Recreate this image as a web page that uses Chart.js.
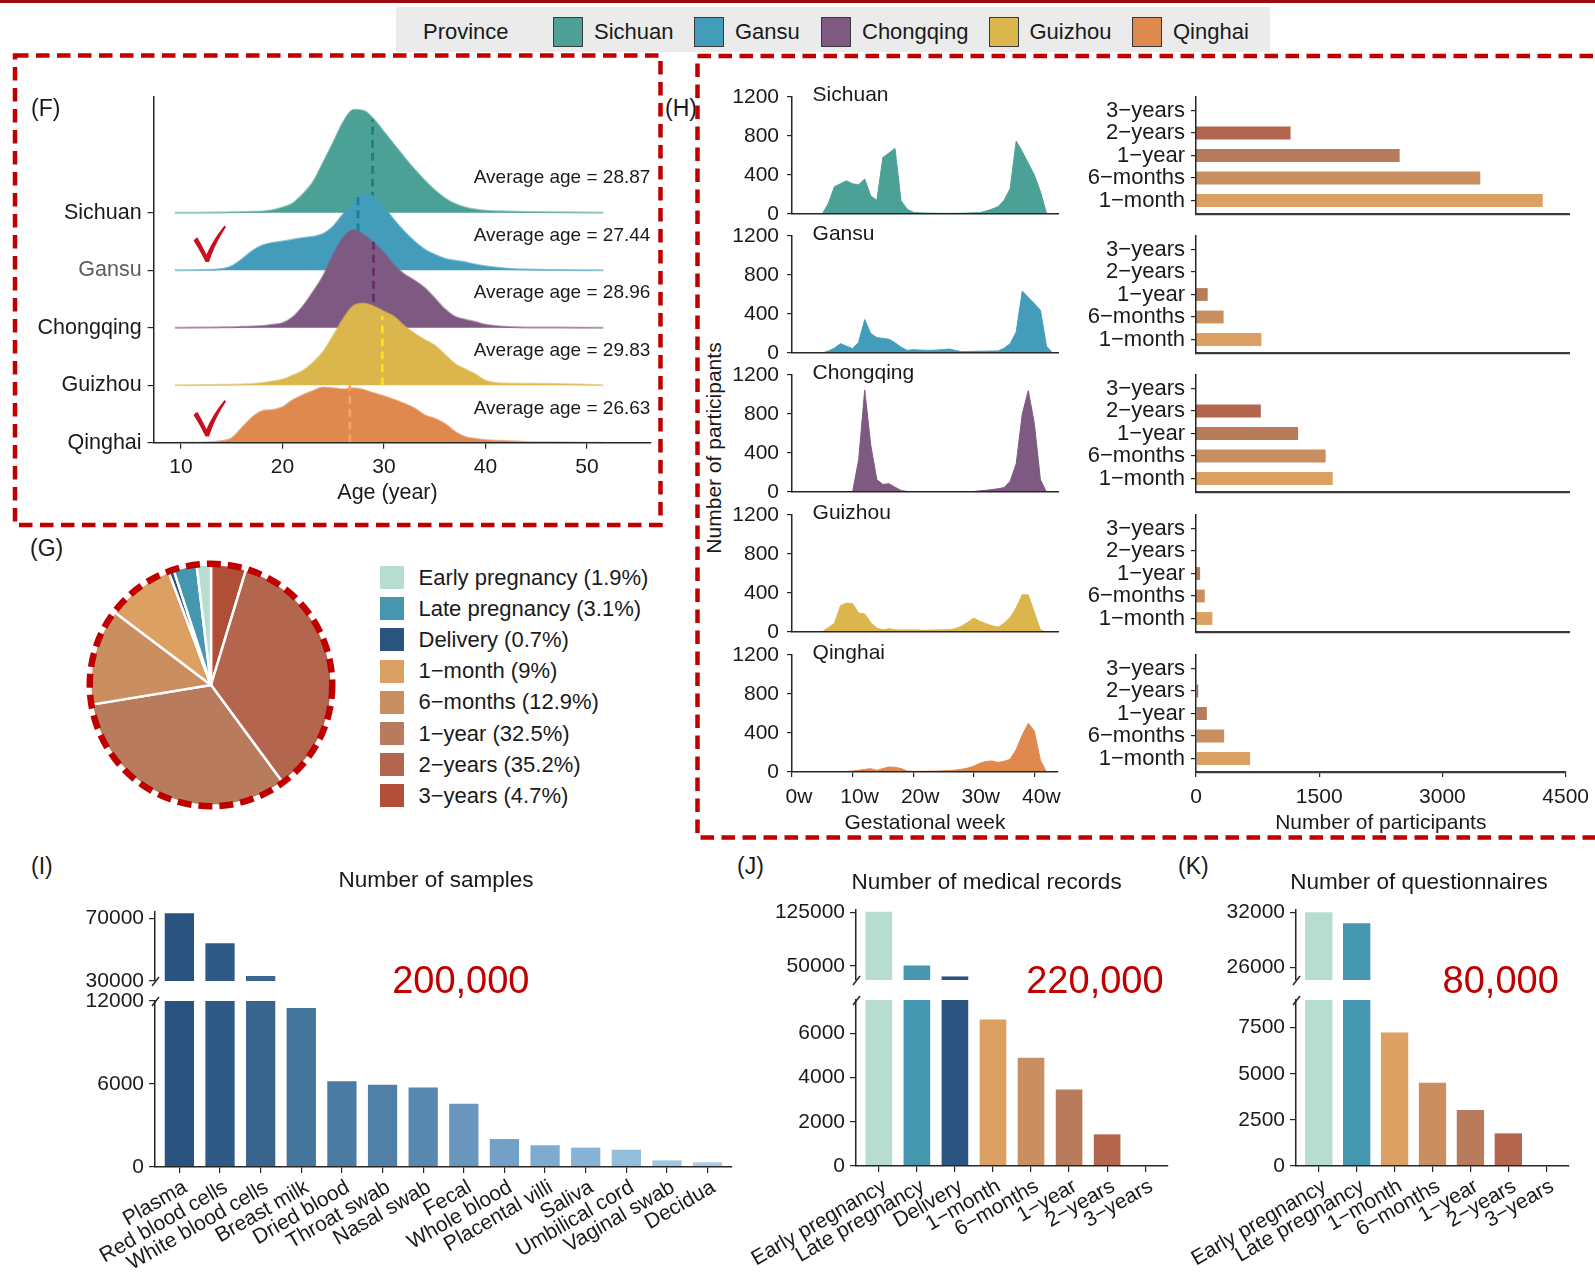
<!DOCTYPE html>
<html>
<head>
<meta charset="utf-8">
<title>Cohort overview</title>
<script src="https://cdn.jsdelivr.net/npm/chart.js@4.4.1/dist/chart.umd.min.js"></script>
<style>
  html, body { margin: 0; padding: 0; background: #fff; }
  body { position: relative; width: 1595px; height: 1272px; overflow: hidden;
         font-family: 'Liberation Sans', Arial, Helvetica, sans-serif; color: #1a1a1a; }
  canvas { position: absolute; }
  .t { position: absolute; white-space: nowrap; line-height: 1; }
  .sw { position: absolute; box-sizing: border-box; }
</style>
</head>
<body>
<div style="position:absolute;left:0;top:0;width:1595px;height:3px;background:#9e0b0f"></div>
<div style="position:absolute;left:396px;top:7px;width:874px;height:45px;background:#ebebeb"></div>
<script>
// ---------- data ----------
const provinces = ['Sichuan', 'Gansu', 'Chongqing', 'Guizhou', 'Qinghai'];
const provinceColors = ['#4ca196', '#439dba', '#7e5a82', '#dab64c', '#e0894f'];
const meanLineColors = ['#1d8181', '#1a7ea2', '#6b2c6e', '#f8e21a', '#f4a25f'];

// (F) age density ridges, heights in row units
const ageGrid = [9.4, 12, 14, 15, 16, 17, 18, 19, 20, 21, 22, 23, 24, 25, 26, 27, 28, 29, 30, 31, 32, 33, 34, 35, 36, 37, 38, 39, 40, 42, 44, 47, 51.6];
const ageSichuan = [0, 0, 0.003, 0.005, 0.01, 0.015, 0.02, 0.04, 0.09, 0.16, 0.32, 0.53, 0.87, 1.22, 1.58, 1.79, 1.77, 1.62, 1.40, 1.18, 0.96, 0.75, 0.56, 0.39, 0.25, 0.15, 0.09, 0.055, 0.035, 0.02, 0.01, 0.005, 0];
const ageGansu = [0, 0.003, 0.02, 0.07, 0.19, 0.33, 0.43, 0.475, 0.5, 0.53, 0.56, 0.58, 0.63, 0.76, 0.98, 1.18, 1.31, 1.28, 1.09, 0.87, 0.67, 0.5, 0.36, 0.27, 0.2, 0.165, 0.14, 0.1, 0.07, 0.03, 0.01, 0.003, 0];
const ageChongqing = [0, 0.003, 0.008, 0.01, 0.015, 0.02, 0.03, 0.05, 0.08, 0.18, 0.37, 0.62, 0.9, 1.27, 1.57, 1.7, 1.61, 1.47, 1.3, 1.08, 0.93, 0.82, 0.69, 0.51, 0.32, 0.19, 0.14, 0.1, 0.05, 0.015, 0.005, 0.002, 0];
const ageGuizhou = [0, 0.003, 0.008, 0.01, 0.015, 0.02, 0.04, 0.065, 0.1, 0.17, 0.25, 0.39, 0.58, 0.86, 1.16, 1.38, 1.42, 1.37, 1.28, 1.19, 1.03, 0.9, 0.79, 0.69, 0.53, 0.37, 0.28, 0.19, 0.08, 0.03, 0.025, 0.02, 0];
const ageQinghai = [0, 0.003, 0.03, 0.08, 0.26, 0.44, 0.55, 0.57, 0.62, 0.74, 0.83, 0.9, 0.96, 0.95, 0.93, 0.95, 0.92, 0.86, 0.81, 0.75, 0.68, 0.6, 0.48, 0.42, 0.33, 0.19, 0.1, 0.07, 0.05, 0.03, 0.015, 0.008, 0];
const meanAges = [28.87, 27.44, 28.96, 29.83, 26.63];
const meanLineTop = [1.62, 1.32, 1.58, 1.2, 1.0];
const ageTicks = [10, 20, 30, 40, 50];

// (H) participants by gestational week
const weeks = [0,1,2,3,4,5,6,7,8,9,10,11,12,13,14,15,16,17,18,19,20,21,22,23,24,25,26,27,28,29,30,31,32,33,34,35,36,37,38,39,40,41,42,43];
const weekSichuan = [0,0,0,0,0,0,110,280,310,340,310,300,360,185,140,580,625,673,136,50,18,12,10,9,8,7,7,7,8,10,12,14,30,50,75,140,260,748,640,520,400,230,7,0];
const weekGansu = [0,0,0,0,0,0,20,50,96,70,45,110,343,199,158,150,141,105,60,27,34,30,28,27,30,35,41,25,14,15,17,18,19,20,21,48,96,216,635,570,505,439,70,0];
const weekChongqing = [0,0,0,0,0,0,0,0,0,0,0,331,1047,480,126,78,85,50,15,6,5,5,5,5,5,5,5,5,5,5,5,12,17,25,33,45,109,290,800,1040,700,126,0,0];
const weekGuizhou = [0,0,0,0,0,0,45,90,270,297,290,195,185,95,40,22,34,22,20,21,21,20,18,20,21,22,24,35,60,100,144,110,85,65,50,90,150,250,383,380,200,21,0,0];
const weekQinghai = [0,0,0,0,0,0,2,3,4,6,10,18,27,34,17,35,51,48,36,10,7,7,8,9,10,12,15,20,28,40,60,90,108,113,98,110,130,230,380,500,420,120,0,0];
const weekTicks = [0, 10, 20, 30, 40];

// (H) follow-up participants
const followLabels = ['3\u2212years', '2\u2212years', '1\u2212year', '6\u2212months', '1\u2212month'];
const followColors = ['#b04e38', '#b4654d', '#b87c5d', '#c98f60', '#dca062'];
const followSichuan = [0, 1141, 2457, 3430, 4183];
const followGansu = [0, 0, 141, 333, 789];
const followChongqing = [0, 782, 1232, 1564, 1649];
const followGuizhou = [0, 0, 50, 106, 198];
const followQinghai = [0, 27, 132, 343, 659];

// (G) time points
const stageLabels = ['Early pregnancy', 'Late pregnancy', 'Delivery', '1\u2212month', '6\u2212months', '1\u2212year', '2\u2212years', '3\u2212years'];
const stagePct = [1.9, 3.1, 0.7, 9, 12.9, 32.5, 35.2, 4.7];
const stageColors = ['#b7ddd0', '#4497af', '#2b5580', '#dca062', '#c98f60', '#b87c5d', '#b4654d', '#b04e38'];

// (I) samples
const sampleLabels = ['Plasma', 'Red blood cells', 'White blood cells', 'Breast milk', 'Dried blood', 'Throat swab', 'Nasal swab', 'Fecal', 'Whole blood', 'Placental villi', 'Saliva', 'Umbilical cord', 'Vaginal swab', 'Decidua'];
const sampleCounts = [73200, 54000, 33200, 11500, 6200, 5950, 5750, 4580, 2020, 1570, 1400, 1250, 480, 340];
const sampleColors = ['#2b5380', '#2f5a85', '#38668e', '#44769b', '#4b7aa3', '#5080a8', '#5888b0', '#6896bd', '#72a0c6', '#7eabd0', '#87b3d6', '#93bedc', '#9ec6e2', '#a9cde6'];

// (J) medical records
const recordLabels = stageLabels;
const recordCounts = [125500, 50300, 35000, 6620, 4890, 3460, 1430, 0];
const recordColors = stageColors;

// (K) questionnaires
const questLabels = ['Early pregnancy', 'Late pregnancy', '1\u2212month', '6\u2212months', '1\u2212year', '2\u2212years', '3\u2212years'];
const questCounts = [32000, 30800, 7240, 4520, 3030, 1770, 0];
const questColors = ['#b7ddd0', '#4497af', '#dca062', '#c98f60', '#b87c5d', '#b4654d', '#b04e38'];

// ---------- helpers ----------
const FONT = "'Liberation Sans', Arial, Helvetica, sans-serif";
const AX = '#262626';
const RED = '#c00000';
Chart.defaults.font.family = FONT;
Chart.defaults.color = '#1a1a1a';
Chart.defaults.animation = false;
Chart.defaults.plugins.legend.display = false;
Chart.defaults.plugins.tooltip.enabled = false;

const plain = v => String(v);

function fade(hex, a) {
  const n = parseInt(hex.slice(1), 16);
  return `rgba(${n >> 16},${(n >> 8) & 255},${n & 255},${a})`;
}

// place a canvas so that the chart area lands on rect a
function mk(a, o, cfg) {
  const c = document.createElement('canvas');
  const left = a.l - (o.yW || 0) - (o.pl || 0);
  const top = a.t - (o.pt || 0);
  const w = Math.round(a.r - left + (o.pr || 0));
  const h = Math.round(a.b - top + (o.xH || 0) + (o.pb || 0));
  c.width = w; c.height = h;
  c.style.left = left + 'px'; c.style.top = top + 'px';
  document.body.appendChild(c);
  cfg.options = cfg.options || {};
  cfg.options.responsive = false;
  cfg.options.devicePixelRatio = 1;
  cfg.options.layout = { padding: { left: o.pl || 0, top: o.pt || 0, right: o.pr || 0, bottom: o.pb || 0 } };
  const sc = cfg.options.scales || {};
  for (const k in sc) {
    if (k === 'x') sc[k].afterFit = s => { s.height = o.xH || 0; };
    else sc[k].afterFit = s => { s.width = o.yW || 0; };
  }
  return new Chart(c, cfg);
}

function notes(items) {
  return {
    id: 'notes',
    afterDatasetsDraw(chart) {
      const { ctx } = chart, xs = chart.scales.x, ys = chart.scales.y;
      ctx.save();
      items.forEach(it => {
        ctx.font = `${it.size || 20}px ${FONT}`;
        ctx.fillStyle = it.color || '#1a1a1a';
        ctx.textAlign = it.align || 'left';
        ctx.textBaseline = 'middle';
        ctx.fillText(it.text, xs.getPixelForValue(it.x), ys.getPixelForValue(it.y));
      });
      ctx.restore();
    }
  };
}

function axisBreak(edge) {
  return {
    id: 'axisBreak',
    afterDraw(chart) {
      const { ctx, chartArea: a } = chart;
      const y = edge === 'bottom' ? a.bottom : a.top;
      ctx.save();
      ctx.strokeStyle = AX; ctx.lineWidth = 1.5;
      ctx.beginPath();
      ctx.moveTo(a.left - 3, y + 5);
      ctx.lineTo(a.left + 4, y - 4);
      ctx.stroke();
      ctx.restore();
    }
  };
}

const tickGrid = (len) => ({ display: true, drawOnChartArea: false, drawTicks: true, tickLength: len, color: AX, lineWidth: 1.2, offset: false });
const axBorder = { display: true, color: AX, width: 1.5, z: 1 };
const idxTicks = n => s => { s.ticks = Array.from({ length: n }, (_, i) => ({ value: i })); };

function txt(s, x, yc, size, opt = {}) {
  const d = document.createElement('div');
  d.className = 't';
  d.textContent = s;
  d.style.fontSize = size + 'px';
  d.style.top = (yc - 0.49 * size) + 'px';
  if (opt.align === 'center') { d.style.left = x + 'px'; d.style.transform = 'translateX(-50%)'; }
  else if (opt.align === 'right') d.style.right = (1595 - x) + 'px';
  else d.style.left = x + 'px';
  if (opt.color) d.style.color = opt.color;
  document.body.appendChild(d);
  return d;
}
function swatch(x, y, w, h, color, border) {
  const d = document.createElement('div');
  d.className = 'sw';
  d.style.cssText += `left:${x}px;top:${y}px;width:${w}px;height:${h}px;background:${color};` + (border ? `border:${border};` : '');
  document.body.appendChild(d);
}

// ---------- top legend ----------
txt('Province', 423, 32, 22);
const legX = [553, 694, 821, 988.5, 1132];
provinces.forEach((p, i) => {
  swatch(legX[i], 17, 30, 30, provinceColors[i], '1.5px solid #3a3a3a');
  txt(p, legX[i] + 41, 32, 22);
});

// ---------- (F) ridgeline ----------
const ageDens = [ageSichuan, ageGansu, ageChongqing, ageGuizhou, ageQinghai];
const fSets = [];
for (let i = provinces.length - 1; i >= 0; i--) {
  const base = provinces.length - 1 - i;
  fSets.push({
    data: [{ x: meanAges[i], y: base }, { x: meanAges[i], y: base + meanLineTop[i] }],
    borderColor: meanLineColors[i], borderWidth: 2.8, borderDash: [8, 5],
    pointRadius: 0, fill: false
  });
  fSets.push({
    data: ageGrid.map((a, j) => ({ x: a, y: base + ageDens[i][j] })),
    backgroundColor: provinceColors[i], borderColor: fade(provinceColors[i], 0.6), borderWidth: 2,
    pointRadius: 0, fill: { value: base }, cubicInterpolationMode: 'monotone'
  });
}
const fNotes = provinces.map((p, i) => ({
  text: 'Average age = ' + meanAges[i].toFixed(2), x: 56.24, y: provinces.length - 1 - i + 0.6, size: 19, align: 'right'
}));
// axis title sits centred under age 30.3, below the tick labels
fNotes.push({ text: 'Age (year)', x: 30.34, y: -0.88, size: 21.5, align: 'center' });
mk({ l: 153.6, t: 96.6, r: 650.6, b: 442.7 }, { yW: 133.6, pt: 26, pr: 8, xH: 63.2 }, {
  type: 'line',
  data: { datasets: fSets },
  options: {
    scales: {
      x: {
        type: 'linear', min: 7.3, max: 56.3,
        afterBuildTicks: s => { s.ticks = ageTicks.map(v => ({ value: v })); },
        ticks: { font: { size: 21 }, padding: 6 },
        grid: tickGrid(6), border: axBorder
      },
      y: {
        type: 'linear', min: 0, max: 6.01,
        afterBuildTicks: s => { s.ticks = [0, 1, 2, 3, 4].map(v => ({ value: v })); },
        ticks: {
          font: { size: 21.5 }, padding: 6, autoSkip: false,
          callback: v => provinces[provinces.length - 1 - v],
          color: c => (c.tick && c.tick.value === 3) ? '#5c5c5c' : '#1a1a1a'
        },
        grid: tickGrid(6), border: axBorder
      }
    }
  },
  plugins: [notes(fNotes)]
});
txt('(F)', 31, 108, 23);

// ---------- (G) pie ----------
mk({ l: 89, t: 562.5, r: 333, b: 806.5 }, { pl: 10, pt: 10, pr: 10, pb: 10 }, {
  type: 'pie',
  data: {
    labels: stageLabels.slice().reverse(),
    datasets: [{
      data: stagePct.slice().reverse(),
      backgroundColor: stageColors.slice().reverse(),
      borderColor: '#ffffff', borderWidth: 2.5
    }]
  },
  options: {},
  plugins: [{
    id: 'ring',
    afterDatasetsDraw(chart) {
      const arc = chart.getDatasetMeta(0).data[0];
      const { x, y, outerRadius } = arc.getProps(['x', 'y', 'outerRadius'], true);
      const ctx = chart.ctx;
      ctx.save();
      ctx.strokeStyle = RED; ctx.lineWidth = 6.5; ctx.setLineDash([14, 7]);
      ctx.beginPath(); ctx.arc(x, y, outerRadius + 0.5, 0, Math.PI * 2); ctx.stroke();
      ctx.restore();
    }
  }]
});
txt('(G)', 30, 548, 23);
stageLabels.forEach((s, i) => {
  const yc = 577.3 + i * 31.24;
  swatch(379.5, yc - 11.5, 24, 23, stageColors[i]);
  txt(`${s} (${stagePct[i]}%)`, 418.5, yc, 22);
});

// ---------- (H) gestational week + follow-up ----------
const weekRows = [weekSichuan, weekGansu, weekChongqing, weekGuizhou, weekQinghai];
const followRows = [followSichuan, followGansu, followChongqing, followGuizhou, followQinghai];
const rowBottoms = [213.6, 352.9, 492.3, 631.8, 771.8];
rowBottoms.forEach((b, i) => {
  const last = i === rowBottoms.length - 1;
  const t = b - 117;
  mk({ l: 791.7, t, r: 1057.3, b }, { yW: 62, pt: 26, pr: 10, xH: last ? 64 : 0, pb: last ? 0 : 26 }, {
    type: 'line',
    data: {
      datasets: [{
        data: weeks.map((w, j) => ({ x: w, y: weekRows[i][j] })),
        backgroundColor: provinceColors[i], borderColor: provinceColors[i], borderWidth: 1,
        pointRadius: 0, fill: 'origin', tension: 0
      }]
    },
    options: {
      scales: {
        x: {
          type: 'linear', min: 0, max: 43.9,
          afterBuildTicks: s => { s.ticks = weekTicks.map(v => ({ value: v })); },
          ticks: { display: last, font: { size: 21 }, padding: 8, labelOffset: 7, autoSkip: false, callback: v => v + 'w' },
          grid: last ? tickGrid(5) : { display: false }, border: axBorder,
          title: { display: last, text: 'Gestational week', font: { size: 21 }, padding: 0 }
        },
        y: {
          type: 'linear', min: 0, max: 1200,
          ticks: { stepSize: 400, font: { size: 21 }, padding: 8, autoSkip: false, callback: plain },
          grid: tickGrid(5), border: axBorder
        }
      }
    },
    plugins: [notes([{ text: provinces[i], x: 3.4, y: 1215, size: 21 }])]
  });
  mk({ l: 1196.4, t, r: 1569.3, b }, { yW: 115, pt: 26, pr: 28, xH: last ? 64 : 0, pb: last ? 0 : 26 }, {
    type: 'bar',
    data: {
      datasets: [{
        data: followRows[i].map((v, k) => ({ x: v, y: k })),
        backgroundColor: followColors, barPercentage: 0.57, categoryPercentage: 1
      }]
    },
    options: {
      indexAxis: 'y',
      scales: {
        x: {
          type: 'linear', min: 0, max: 4500,
          ticks: { display: last, stepSize: 1500, font: { size: 21 }, padding: 8, autoSkip: false, callback: plain },
          grid: last ? tickGrid(5) : { display: false },
          border: { display: true, color: '#3a3a3a', width: 2.2, z: 1 },
          title: { display: last, text: 'Number of participants', font: { size: 21 }, padding: 0 }
        },
        y: {
          type: 'linear', offset: false, reverse: true, min: -0.6, max: followLabels.length - 0.4,
          afterBuildTicks: idxTicks(followLabels.length),
          ticks: { font: { size: 22 }, padding: 6, autoSkip: false, callback: v => followLabels[v] },
          grid: tickGrid(5), border: axBorder
        }
      }
    }
  });
});
txt('(H)', 665, 108, 23);
const yTitle = txt('Number of participants', 713, 447.6, 21);
yTitle.style.top = '447.6px';
yTitle.style.transform = 'translate(-50%, -50%) rotate(-90deg)';

// ---------- (I)(J)(K) broken-axis bar charts ----------
function brokenBars(p) {
  const n = p.labels.length;
  const pts = p.values.map((v, i) => ({ x: i, y: v }));
  const xBase = { type: 'linear', offset: false, min: -0.6, max: n - 0.4, afterBuildTicks: idxTicks(n) };
  mk({ l: p.l, t: p.topT, r: p.r, b: p.topB }, { yW: p.yW, pt: 26, pr: 10, xH: 0, pb: 26 }, {
    type: 'bar',
    data: { datasets: [{ data: pts, backgroundColor: p.colors, barPercentage: p.bp, categoryPercentage: 1, clip: 0 }] },
    options: {
      scales: {
        x: Object.assign({ display: false, grid: { offset: false } }, xBase),
        y: {
          min: p.topMin, max: p.topMax,
          afterBuildTicks: s => { s.ticks = p.topTicks.map(v => ({ value: v })); },
          ticks: { font: { size: 21 }, padding: 5, autoSkip: false, callback: plain },
          grid: tickGrid(6), border: axBorder
        }
      }
    },
    plugins: [axisBreak('bottom')]
  });
  mk({ l: p.l, t: p.botT, r: p.r, b: p.botB }, { yW: p.yW, pt: 26, pr: 10, xH: 105, pb: 0 }, {
    type: 'bar',
    data: { datasets: [{ data: pts, backgroundColor: p.colors, barPercentage: p.bp, categoryPercentage: 1, clip: 0 }] },
    options: {
      scales: {
        x: Object.assign({
          ticks: { font: { size: 21 }, minRotation: 30, maxRotation: 30, autoSkip: false, padding: 2, labelOffset: 6, callback: v => p.labels[v] },
          grid: tickGrid(6), border: axBorder
        }, xBase),
        y: {
          min: 0, max: p.botMax,
          afterBuildTicks: s => { s.ticks = p.botTicks.map(v => ({ value: v })); },
          ticks: { font: { size: 21 }, padding: 5, autoSkip: false, callback: plain },
          grid: tickGrid(6), border: axBorder
        }
      }
    },
    plugins: [axisBreak('top')]
  });
}

brokenBars({
  labels: sampleLabels, values: sampleCounts, colors: sampleColors, bp: 0.72,
  l: 155, r: 731.5, yW: 80,
  topT: 912, topB: 980.7, topMin: 30000, topMax: 74000, topTicks: [30000, 70000],
  botT: 1000.7, botB: 1166.2, botMax: 12000, botTicks: [0, 6000, 12000]
});
brokenBars({
  labels: recordLabels, values: recordCounts, colors: recordColors, bp: 0.7,
  l: 856.2, r: 1168, yW: 130,
  topT: 910, topB: 980, topMin: 30000, topMax: 128000, topTicks: [50000, 125000],
  botT: 1000, botB: 1166, botMax: 7500, botTicks: [0, 2000, 4000, 6000]
});
brokenBars({
  labels: questLabels, values: questCounts, colors: questColors, bp: 0.72,
  l: 1295.5, r: 1568.8, yW: 135,
  topT: 910, topB: 980, topMin: 24600, topMax: 32250, topTicks: [26000, 32000],
  botT: 1000, botB: 1166, botMax: 9000, botTicks: [0, 2500, 5000, 7500]
});

txt('(I)', 31, 866, 23);
txt('(J)', 737, 866, 23);
txt('(K)', 1178, 866, 23);
txt('Number of samples', 436, 880, 22.5, { align: 'center' });
txt('Number of medical records', 986.6, 881.7, 22.5, { align: 'center' });
txt('Number of questionnaires', 1419, 881.7, 22.5, { align: 'center' });
txt('200,000', 529.5, 980, 38, { align: 'right', color: RED });
txt('220,000', 1163.6, 980, 38, { align: 'right', color: RED });
txt('80,000', 1558.8, 980, 38, { align: 'right', color: RED });

// ---------- dashed frames and check marks ----------
const svgNS = 'http://www.w3.org/2000/svg';
const svg = document.createElementNS(svgNS, 'svg');
svg.setAttribute('width', '1595');
svg.setAttribute('height', '1272');
svg.style.cssText = 'position:absolute;left:0;top:0;pointer-events:none';
[[15, 55.5, 645.5, 469.5], [697.5, 56, 930, 781.5]].forEach(([x, y, w, h]) => {
  const r = document.createElementNS(svgNS, 'rect');
  r.setAttribute('x', x); r.setAttribute('y', y);
  r.setAttribute('width', w); r.setAttribute('height', h);
  r.setAttribute('fill', 'none'); r.setAttribute('stroke', RED);
  r.setAttribute('stroke-width', '4.5'); r.setAttribute('stroke-dasharray', '13.5 7.5');
  svg.appendChild(r);
});
[225.5, 400].forEach(y0 => {
  const c = document.createElementNS(svgNS, 'path');
  c.setAttribute('d', 'M193.5 15 Q195.5 12.5 197.5 12 Q202 20 206.5 29 Q213 14 224.5 0 L226 1.5 Q215 18 209 36.5 L205.5 36.5 Q200 25 193.5 15 Z');
  c.setAttribute('transform', `translate(0 ${y0})`);
  c.setAttribute('fill', '#c8101e');
  svg.appendChild(c);
});
document.body.appendChild(svg);
</script>
</body>
</html>
